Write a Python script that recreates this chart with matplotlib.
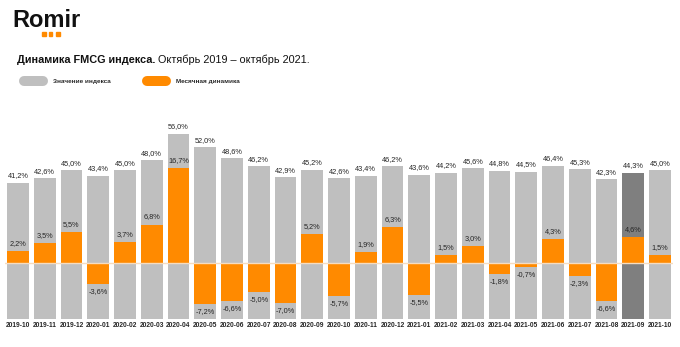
import matplotlib
matplotlib.use("Agg")
import matplotlib.pyplot as plt
from matplotlib.patches import Rectangle
from matplotlib.lines import Line2D

plt.rcParams['font.family'] = ['Liberation Sans', 'DejaVu Sans']

months = ["2019-10", "2019-11", "2019-12", "2020-01", "2020-02", "2020-03", "2020-04",
          "2020-05", "2020-06", "2020-07", "2020-08", "2020-09", "2020-10", "2020-11",
          "2020-12", "2021-01", "2021-02", "2021-03", "2021-04", "2021-05", "2021-06",
          "2021-07", "2021-08", "2021-09", "2021-10"]
index_values = [41.2, 42.6, 45.0, 43.4, 45.0, 48.0, 56.0, 52.0, 48.6, 46.2, 42.9, 45.2, 42.6,
                43.4, 46.2, 43.6, 44.2, 45.6, 44.8, 44.5, 46.4, 45.3, 42.3, 44.3, 45.0]
monthly_change = [2.2, 3.5, 5.5, -3.6, 3.7, 6.8, 16.7, -7.2, -6.6, -5.0, -7.0, 5.2, -5.7,
                  1.9, 6.3, -5.5, 1.5, 3.0, -1.8, -0.7, 4.3, -2.3, -6.6, 4.6, 1.5]
highlight_month = "2021-09"
title_bold = "Динамика FMCG индекса."
title_rest = " Октябрь 2019 – октябрь 2021."
legend_labels = ["Значение индекса", "Месячная динамика"]

GRAY = "#BFBFBF"
DARK = "#7F7F7F"
ORANGE = "#FF8A00"
TXT = "#262626"

W, H = 680, 347
fig = plt.figure(figsize=(W / 100, H / 100), dpi=100)

def fx(px):
    return px / W

def fy(py):
    return 1 - py / H

# axes geometry (pixels)
left, right = 4.6, 673.4
bottom, top = 319.0, 120.7
ax = fig.add_axes([fx(left), fy(bottom), fx(right - left), (bottom - top) / H])
ax2 = ax.twinx()

x = list(range(len(months)))
colors = [DARK if m == highlight_month else GRAY for m in months]
ax.bar(x, index_values, width=0.82, color=colors, zorder=1)
ax.set_ylim(0, 60)
ax.set_xlim(-0.5, len(months) - 0.5)

ax2.bar(x, monthly_change, width=0.82, color=ORANGE, zorder=2)
ax2.axhline(0, color="#F6DCC0", lw=1.0, zorder=3)
ax2.set_ylim(-9.81, 25.1)

for a in (ax, ax2):
    for s in a.spines.values():
        s.set_visible(False)
    a.set_yticks([])
    a.tick_params(axis='both', length=0)

ax.set_xticks(x)
ax.set_xticklabels(months, fontsize=4.8, fontweight='bold', color=TXT)
ax.tick_params(axis='x', pad=2.5)

def fmt(v):
    return f"{v:.1f}%".replace(".", ",")

for xi, v in zip(x, index_values):
    ax.annotate(fmt(v), (xi, v), xytext=(0, 2.5), textcoords='offset points',
                ha='center', va='bottom', fontsize=5.3, color=TXT)
for xi, v in zip(x, monthly_change):
    if v >= 0:
        ax2.annotate(fmt(v), (xi, v), xytext=(0, 3.0), textcoords='offset points',
                     ha='center', va='bottom', fontsize=5.3, color=TXT, zorder=5)
    else:
        ax2.annotate(fmt(v), (xi, v), xytext=(0, -3.0), textcoords='offset points',
                     ha='center', va='top', fontsize=5.3, color=TXT, zorder=5)

# Logo
fig.text(fx(12), fy(20.5), "Romir", fontsize=17, fontweight='bold', color="#111111",
         ha='left', va='center')
for i in range(3):
    fig.patches.append(Rectangle((fx(42 + i * 7), fy(35.5)), fx(3.5), 3.5 / H,
                                 transform=fig.transFigure, color=ORANGE))

# Title
t1 = fig.text(fx(17), fy(60), title_bold, fontsize=7.85, fontweight='bold', color="#111111",
              ha='left', va='center')
fig.canvas.draw()
bb = t1.get_window_extent()
fig.text(bb.x1 / W, fy(60), title_rest, fontsize=7.85, color="#111111", ha='left', va='center')

# Legend
for (x0, lab, col, tx) in [(19, legend_labels[0], GRAY, 53), (142, legend_labels[1], ORANGE, 176)]:
    fig.lines.append(Line2D([fx(x0 + 5), fx(x0 + 24)], [fy(81), fy(81)],
                            transform=fig.transFigure, color=col, lw=7.2,
                            solid_capstyle='round'))
    fig.text(fx(tx), fy(81.5), lab, fontsize=4.6, fontweight='bold', color=TXT,
             ha='left', va='center')

fig.savefig("out.png", dpi=100)
